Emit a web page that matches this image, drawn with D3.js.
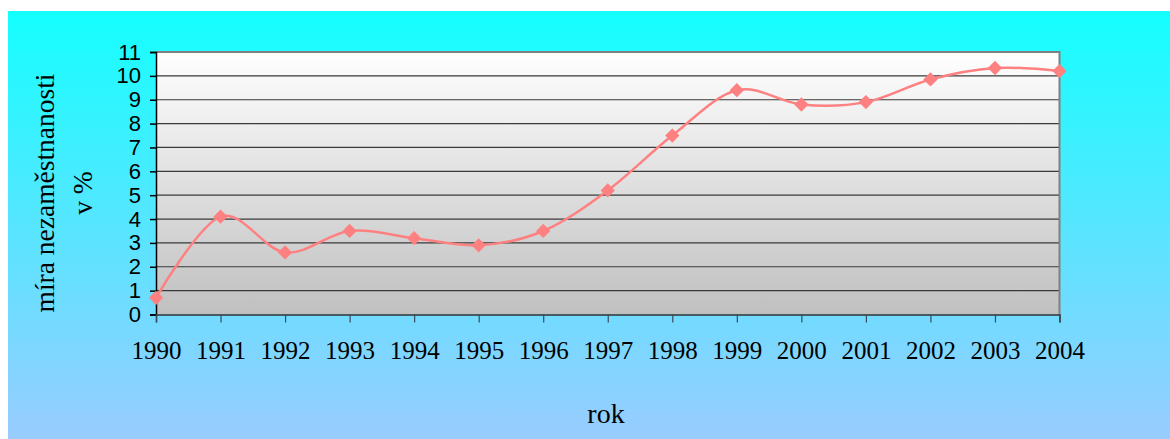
<!DOCTYPE html>
<html>
<head>
<meta charset="utf-8">
<style>
    body { margin: 0; background: #ffffff; }
    svg { display: block; }
</style>
</head>
<body>
<div id="chart"></div>
<script src="https://d3js.org/d3.v7.min.js"></script>
<script>
    // data
    var years = [1990, 1991, 1992, 1993, 1994, 1995, 1996, 1997, 1998, 1999, 2000, 2001, 2002, 2003, 2004];
    var rate = [0.7, 4.1, 2.6, 3.5, 3.2, 2.9, 3.5, 5.2, 7.5, 9.4, 8.8, 8.9, 9.85, 10.33, 10.2];
    var yTicks = [0, 1, 2, 3, 4, 5, 6, 7, 8, 9, 10, 11];

    var W = 1170, H = 439;
    // plot area edges
    var plotL = 156, plotR = 1059.5, plotT = 52, plotB = 314.5;

    var svg = d3.select("#chart").append("svg")
        .attr("width", W)
        .attr("height", H);

    var defs = svg.append("defs");
    var bg = defs.append("linearGradient").attr("id", "bg")
        .attr("x1", 0).attr("y1", 0).attr("x2", 0).attr("y2", 1);
    bg.append("stop").attr("offset", "0%").attr("stop-color", "#14ffff");
    bg.append("stop").attr("offset", "100%").attr("stop-color", "#99ccff");

    var pg = defs.append("linearGradient").attr("id", "plotbg")
        .attr("x1", 0).attr("y1", 0).attr("x2", 0).attr("y2", 1);
    pg.append("stop").attr("offset", "0%").attr("stop-color", "#ffffff");
    pg.append("stop").attr("offset", "100%").attr("stop-color", "#c0c0c0");

    // outer chart area
    svg.append("rect")
        .attr("x", 8).attr("y", 11)
        .attr("width", W - 8).attr("height", H - 11)
        .attr("fill", "url(#bg)");

    var x = d3.scaleLinear().domain([years[0], years[years.length - 1]]).range([plotL, plotR]);
    var y = d3.scaleLinear().domain([0, 11]).range([plotB, plotT]);

    // plot area
    svg.append("rect")
        .attr("x", plotL).attr("y", plotT)
        .attr("width", plotR - plotL).attr("height", plotB - plotT)
        .attr("fill", "url(#plotbg)");

    // gridlines
    svg.append("g")
        .selectAll("line")
        .data(yTicks.slice(1, -1))
        .enter()
        .append("line")
        .attr("x1", plotL).attr("x2", plotR)
        .attr("y1", d => y(d)).attr("y2", d => y(d))
        .attr("stroke", "#3a3a3a")
        .attr("stroke-width", 1.2);

    // top and right border
    svg.append("path")
        .attr("d", "M" + plotL + "," + plotT + "H" + plotR + "V" + plotB)
        .attr("fill", "none")
        .attr("stroke", "#808080")
        .attr("stroke-width", 2);

    // y axis
    var yAxis = svg.append("g")
        .attr("transform", "translate(" + plotL + ",0)")
        .call(d3.axisLeft(y).tickValues(yTicks).tickSize(6).tickPadding(9));
    yAxis.select(".domain").attr("stroke", "#000").attr("stroke-width", 1.5);
    yAxis.selectAll(".tick line").attr("stroke", "#000").attr("stroke-width", 1.5);
    yAxis.selectAll("text")
        .attr("font-family", "'Liberation Sans', Arial, sans-serif")
        .attr("font-size", "22px")
        .attr("fill", "#000");

    // x axis
    var xAxis = svg.append("g")
        .attr("transform", "translate(0," + plotB + ")")
        .call(d3.axisBottom(x).tickValues(years).tickFormat(d3.format("d")).tickSize(8).tickPadding(19));
    xAxis.select(".domain").attr("stroke", "#333").attr("stroke-width", 1.5);
    xAxis.selectAll(".tick line").attr("stroke", "#3a4a5a").attr("stroke-width", 1.2);
    xAxis.selectAll("text")
        .attr("font-family", "'Liberation Serif', 'Times New Roman', serif")
        .attr("font-size", "25px")
        .attr("fill", "#000");

    // smoothed line (uniform catmull-rom, like the spreadsheet smoothing)
    var line = d3.line()
        .x((d, i) => x(years[i]))
        .y(d => y(d))
        .curve(d3.curveCardinal.tension(0));

    svg.append("path")
        .datum(rate)
        .attr("d", line)
        .attr("fill", "none")
        .attr("stroke", "#ff8080")
        .attr("stroke-width", 2.5);

    // diamond markers
    svg.append("g")
        .selectAll("path")
        .data(rate)
        .enter()
        .append("path")
        .attr("d", d3.symbol().type(d3.symbolDiamond2).size(130))
        .attr("transform", (d, i) => "translate(" + x(years[i]) + "," + y(d) + ")")
        .attr("fill", "#ff8080");

    // axis titles
    var yt = svg.append("text")
        .attr("transform", "translate(0," + 193 + ") rotate(-90)")
        .attr("text-anchor", "middle")
        .attr("font-family", "'Liberation Serif', 'Times New Roman', serif")
        .attr("font-size", "27.5px")
        .attr("fill", "#000");
    yt.append("tspan").attr("x", 0).attr("y", 54).text("míra nezaměstnanosti");
    yt.append("tspan").attr("x", 0).attr("y", 92).text("v %");

    svg.append("text")
        .attr("x", 606).attr("y", 423)
        .attr("text-anchor", "middle")
        .attr("font-family", "'Liberation Serif', 'Times New Roman', serif")
        .attr("font-size", "28px")
        .attr("fill", "#000")
        .text("rok");
</script>
</body>
</html>
